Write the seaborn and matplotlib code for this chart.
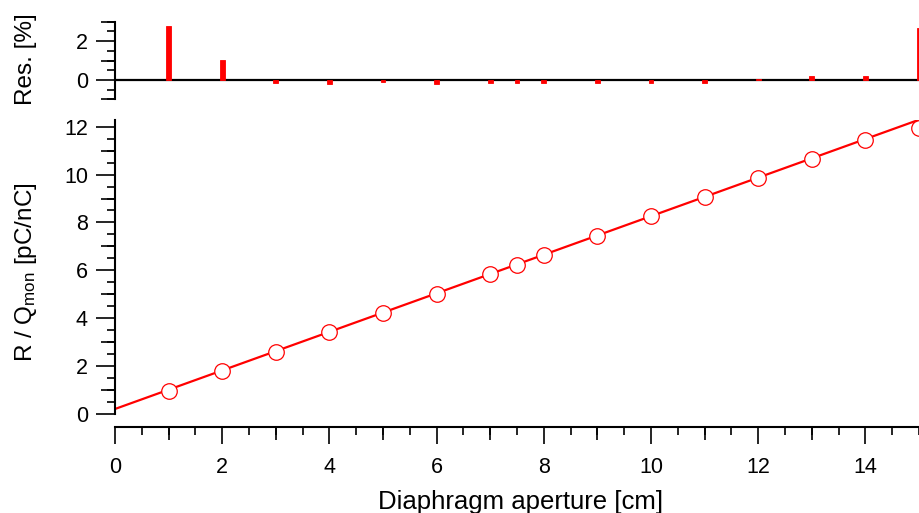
import numpy as np
import pandas as pd
import matplotlib
matplotlib.use("Agg")
import matplotlib.pyplot as plt
from matplotlib.ticker import FixedLocator
import seaborn as sns

# ---------------------------- data ----------------------------
aperture = [1, 2, 3, 4, 5, 6, 7, 7.5, 8, 9, 10, 11, 12, 13, 14, 15]
ratio = [0.96, 1.79, 2.59, 3.43, 4.21, 5.03, 5.84, 6.22, 6.64, 7.43,
         8.25, 9.05, 9.84, 10.64, 11.46, 11.96]
residual = [2.78, 1.04, -0.17, -0.2, -0.1, -0.2, -0.18, -0.14, -0.18,
            -0.14, -0.14, -0.18, 0.05, 0.2, 0.2, 2.69]
fit_x = [0, 15]
fit_y = [0.21, 12.29]

df = pd.DataFrame({"aperture": aperture, "ratio": ratio, "residual": residual})
fit = pd.DataFrame({"x": fit_x, "y": fit_y})

# ---------------------------- style ----------------------------
sns.set_style("ticks")
plt.rcParams["font.family"] = ["Liberation Sans", "DejaVu Sans"]
plt.rcParams["mathtext.default"] = "regular"
plt.rcParams["axes.linewidth"] = 1.5
for k in ["text.color", "axes.labelcolor", "xtick.color", "ytick.color", "axes.edgecolor"]:
    plt.rcParams[k] = "black"

RED = "#ff0000"
FS = 15.5    # tick labels
LFS = 17.5   # axis titles

fig = plt.figure(figsize=(9.19, 5.13), dpi=100)
ax = fig.add_axes([0.1251, 0.1676, 0.8749, 0.5985])
ax_r = fig.add_axes([0.1251, 0.8064, 0.8749, 0.1513], sharex=ax)

# ---------------------------- main panel ----------------------------
sns.lineplot(data=fit, x="x", y="y", color=RED, lw=1.6, ax=ax, zorder=2)
sns.scatterplot(data=df, x="aperture", y="ratio", marker="o", s=125,
                facecolor="white", edgecolor=RED, linewidth=0.9, ax=ax, zorder=3)

ax.set_xlim(0, 15)
ax.set_ylim(-0.543, 12.28)
for s in ["top", "right"]:
    ax.spines[s].set_visible(False)
ax.spines["left"].set_bounds(0, 12.28)

ax.set_xticks(np.arange(0, 15, 2))
ax.xaxis.set_minor_locator(FixedLocator(np.arange(0, 15.01, 0.5)))
ax.set_yticks(np.arange(0, 13, 2))
ax.yaxis.set_minor_locator(FixedLocator(np.arange(0, 12.01, 0.5)))
ax.tick_params(axis="x", which="major", length=12.5, width=1.2, pad=9, labelsize=FS)
ax.tick_params(axis="y", which="major", length=13.5, width=1.2, pad=6, labelsize=FS)
ax.tick_params(which="minor", length=6, width=1.2)

# medium ticks at odd integers
secx = ax.secondary_xaxis("bottom")
secx.set_xticks(np.arange(1, 15, 2))
secx.tick_params(length=9.5, width=1.2, labelbottom=False)
secx.spines["bottom"].set_visible(False)
secy = ax.secondary_yaxis("left")
secy.set_yticks(np.arange(1, 12, 2))
secy.tick_params(length=10, width=1.2, labelleft=False)
secy.spines["left"].set_visible(False)

ax.set_xlabel("Diaphragm aperture [cm]", fontsize=18.5, va="center")
ax.set_ylabel("R / Q$_{mon}$ [pC/nC]", fontsize=LFS, va="center")
ax.xaxis.set_label_coords(0.505, -0.245)
ax.yaxis.set_label_coords(-0.111, 0.505)

# ---------------------------- residual panel ----------------------------
ax_r.axhline(0, color="black", lw=1.6, zorder=1)
ax_r.bar(df["aperture"], df["residual"], width=0.09, color=RED,
         edgecolor=RED, linewidth=0.6, zorder=2)

ax_r.set_ylim(-1, 3)
for s in ["top", "right", "bottom"]:
    ax_r.spines[s].set_visible(False)
ax_r.set_yticks([0, 2])
ax_r.yaxis.set_minor_locator(FixedLocator(np.arange(-1, 3.01, 0.5)))
ax_r.tick_params(axis="y", which="major", length=13.5, width=1.2, pad=6, labelsize=FS)
ax_r.tick_params(axis="y", which="minor", length=6, width=1.2)
ax_r.tick_params(axis="x", which="both", bottom=False, labelbottom=False)
secr = ax_r.secondary_yaxis("left")
secr.set_yticks([-1, 1, 3])
secr.tick_params(length=10, width=1.2, labelleft=False)
secr.spines["left"].set_visible(False)

ax_r.set_xlabel("")
ax_r.set_ylabel("Res. [%]", fontsize=LFS, va="center")
ax_r.yaxis.set_label_coords(-0.111, 0.52)

fig.savefig("out.png", dpi=100)
